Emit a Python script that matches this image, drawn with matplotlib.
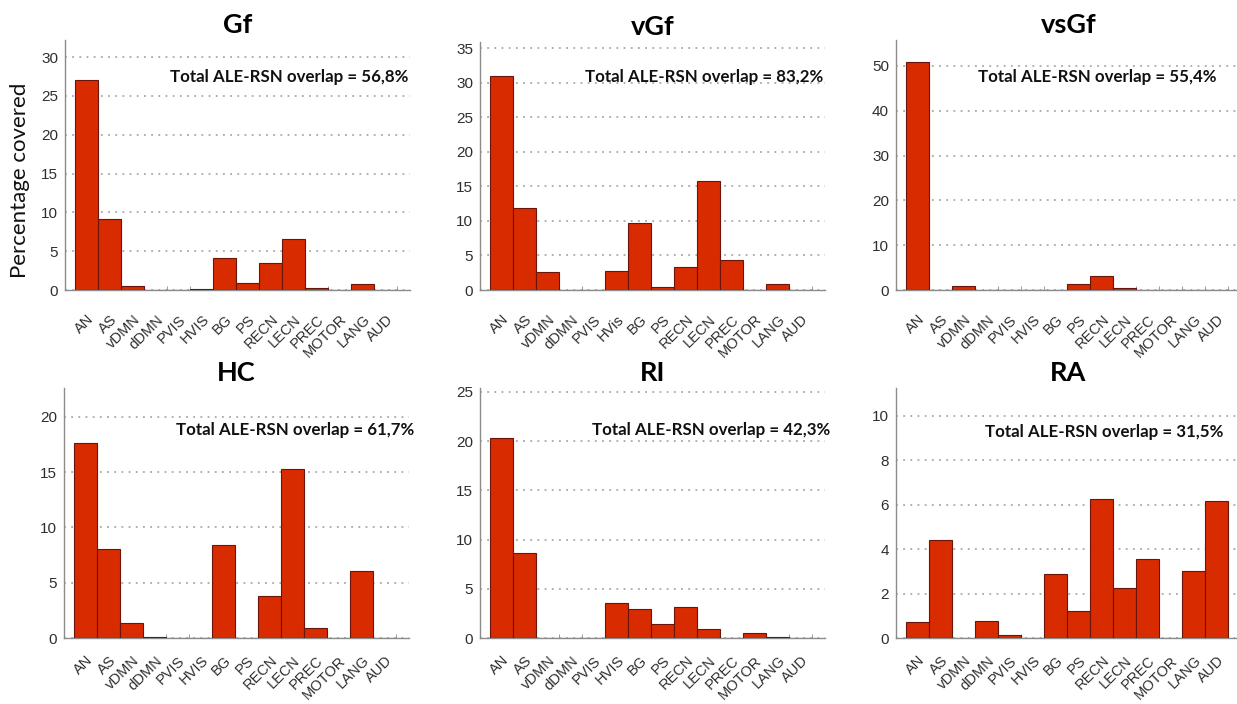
import matplotlib.pyplot as plt
from matplotlib.transforms import ScaledTranslation
import numpy as np

networks = ['AN', 'AS', 'vDMN', 'dDMN', 'PVIS', 'HVIS', 'BG', 'PS',
            'RECN', 'LECN', 'PREC', 'MOTOR', 'LANG', 'AUD']
networks_vgf = ['AN', 'AS', 'vDMN', 'dDMN', 'PVIS', 'HVis', 'BG', 'PS',
                'RECN', 'LECN', 'PREC', 'MOTOR', 'LANG', 'AUD']

gf = [27.1, 9.2, 0.5, 0, 0, 0.17, 4.16, 0.94, 3.5, 6.56, 0.3, 0, 0.77, 0]
vgf = [31.05, 11.8, 2.65, 0, 0, 2.74, 9.63, 0.48, 3.37, 15.84, 4.33, 0, 0.82, 0]
vsgf = [50.8, 0, 0.89, 0, 0, 0, 0, 1.26, 3.13, 0.37, 0, 0, 0, 0]
hc = [17.6, 8.09, 1.32, 0.12, 0, 0, 8.45, 0, 3.82, 15.25, 0.9, 0, 6.1, 0]
ri = [20.3, 8.64, 0, 0, 0, 3.56, 2.95, 1.46, 3.18, 0.88, 0, 0.51, 0.1, 0]
ra = [0.72, 4.41, 0, 0.76, 0.15, 0, 2.88, 1.2, 6.25, 2.26, 3.55, 0, 3.04, 6.18]

titles = ['Gf', 'vGf', 'vsGf', 'HC', 'RI', 'RA']
overlap = ['56,8%', '83,2%', '55,4%', '61,7%', '42,3%', '31,5%']
series = [gf, vgf, vsgf, hc, ri, ra]
labels = [networks, networks_vgf, networks, networks, networks, networks]
yticks = [np.arange(0, 31, 5), np.arange(0, 36, 5), np.arange(0, 51, 10),
          np.arange(0, 21, 5), np.arange(0, 26, 5), np.arange(0, 11, 2)]
ytops = [32.2, 35.9, 55.8, 22.6, 25.4, 11.26]

W, H = 1237, 704
# axes boxes in pixels: left, top, bottom
boxes = [(65, 40, 290), (480, 42, 290), (896, 40, 290),
         (64, 388, 638), (480, 388, 638), (896, 388, 638)]
# annotation left x, y (axes fraction)
txt_pos = [(0.304, 0.852), (0.304, 0.859), (0.238, 0.852),
           (0.325, 0.832), (0.325, 0.832), (0.258, 0.824)]

bar_color = '#d92b00'
edge_color = '#6a150a'
tick_color = '#2e2e2e'
spine_color = '#8c8c8c'

fig = plt.figure(figsize=(W / 100, H / 100), dpi=100)
x = np.arange(len(networks))

for i in range(6):
    l, t, b = boxes[i]
    ax = fig.add_axes([l / W, (H - b) / H, 345 / W, (b - t) / H])
    ax.bar(x, series[i], width=1.0, color=bar_color, edgecolor=edge_color,
           linewidth=0.8, zorder=3)
    ax.set_xlim(-0.95, 14.05)
    ax.set_ylim(0, ytops[i])
    ax.set_yticks(yticks[i])
    ax.yaxis.grid(True, color='#9a9a9a', linestyle=(0, (1.2, 3.5)), linewidth=1.1, zorder=0)
    ax.set_axisbelow(True)
    ax.set_xticks(x)
    ax.set_xticks(np.arange(-0.5, 14.0, 1.0), minor=True)
    ax.set_xticklabels(labels[i], rotation=45, ha='right', va='top',
                       rotation_mode='anchor', family='Liberation Sans',
                       fontsize=10.5, color=tick_color)
    off = ScaledTranslation(4 / 72, 0, fig.dpi_scale_trans)
    for lab in ax.get_xticklabels():
        lab.set_transform(lab.get_transform() + off)
    # bottom row sits near the image edge, keep its labels inside
    ax.tick_params(axis='x', which='major', length=0, pad=16 if i < 3 else 11)
    ax.tick_params(axis='x', which='minor', length=3, direction='in', color=spine_color)
    ax.tick_params(axis='y', length=0, pad=5, labelsize=11, labelcolor=tick_color)
    for lab in ax.get_yticklabels():
        lab.set_family('Liberation Sans')
    for s in ['top', 'right']:
        ax.spines[s].set_visible(False)
    for s in ['left', 'bottom']:
        ax.spines[s].set_color(spine_color)
        ax.spines[s].set_linewidth(1.0)
    ax.set_title(titles[i], family='Lato', fontweight='bold', fontsize=19.5, pad=5)
    ax.text(txt_pos[i][0], txt_pos[i][1], 'Total ALE-RSN overlap = ' + overlap[i],
            transform=ax.transAxes, ha='left', va='center', family='Lato',
            fontweight='bold', fontsize=12.2, color='#111111', zorder=5)
    if i == 0:
        ax.set_ylabel('Percentage covered', family='Lato', fontsize=16,
                      color='#111111')
        ax.yaxis.set_label_coords(-0.1, 0.44)

fig.savefig('out.png', dpi=100)
